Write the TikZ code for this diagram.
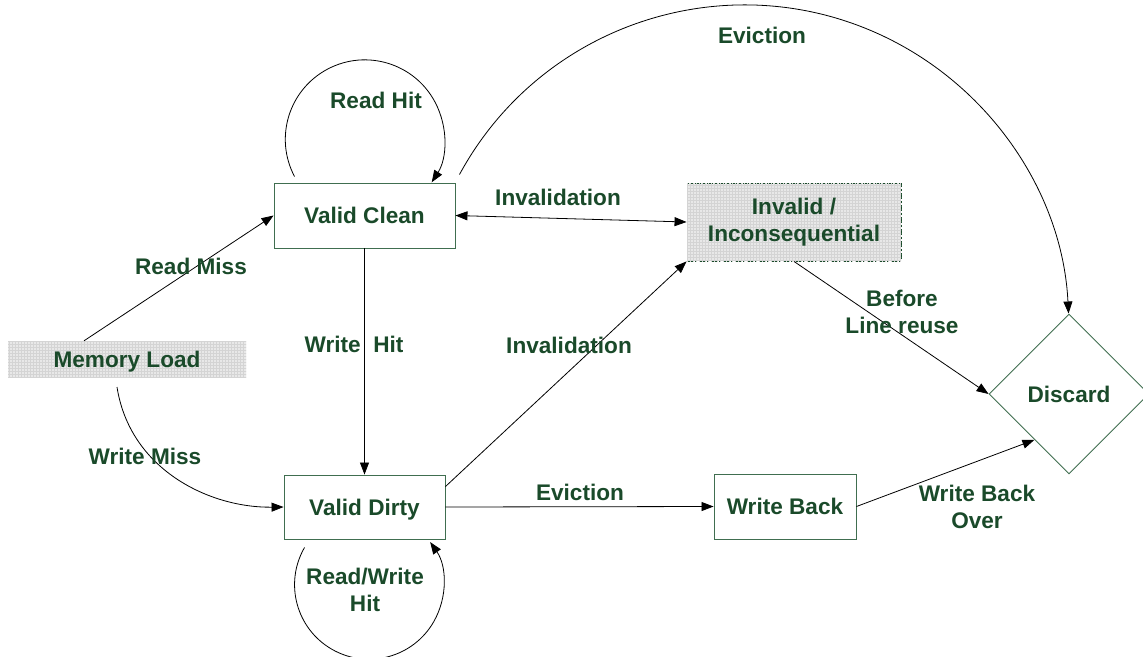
\documentclass[tikz,border=0pt]{standalone}
\usepackage{fontspec}
\setmainfont{Liberation Sans}
\usetikzlibrary{arrows.meta,shapes.geometric,patterns,calc}
\definecolor{txtgreen}{RGB}{26,74,42}
\definecolor{boxgreen}{RGB}{64,110,80}
\definecolor{gridbg}{RGB}{232,232,232}
\definecolor{gridln}{RGB}{212,212,212}
\tikzset{
  statebox/.style={draw=boxgreen, line width=0.9pt, inner sep=0pt, text=txtgreen, align=center},
  onel/.style={text height=16pt, text depth=0pt},
  gridfill/.style={fill=gridbg, postaction={pattern=grid, pattern color=gridln}},
  lbl/.style={text=txtgreen, align=center, inner sep=0pt},
  conn/.style={line width=0.8pt, draw=black, -{Triangle[length=12pt,width=9pt]}},
  dconn/.style={line width=0.8pt, draw=black, {Triangle[length=12pt,width=9pt]}-{Triangle[length=12pt,width=9pt]}}
}
\begin{document}
\begin{tikzpicture}[x=1pt, y=-1pt, font=\fontsize{22.6}{27}\selectfont\bfseries]
\useasboundingbox (0,0) rectangle (1143,656);

% nodes
\node[statebox, onel, minimum width=181pt, minimum height=65pt] (vc) at (364.5,215.5) {Valid Clean};
\node[statebox, gridfill, draw=txtgreen, dash pattern=on 6pt off 2pt on 2pt off 2pt, minimum width=214pt, minimum height=78pt] (inv) at (794,222) {Invalid /\\Inconsequential};
\node[gridfill, onel, inner sep=0pt, text=txtgreen, minimum width=238pt, minimum height=36pt] (ml) at (127,359) {Memory Load};
\node[statebox, onel, minimum width=161pt, minimum height=64pt] (vd) at (364.5,507) {Valid Dirty};
\node[statebox, onel, minimum width=142pt, minimum height=65pt] (wb) at (785,506.5) {Write Back};
\node[statebox, onel, diamond, minimum width=160pt, minimum height=160pt] (dis) at (1069,394) {Discard};

% helper coordinates
\coordinate (wmstart) at (117,387);
\coordinate (disedge) at ($(dis.west)!0.57!(dis.south)$);

% connectors
\draw[conn] ([xshift=-43pt]ml.north) -- (vc.west);
\draw[conn] (wmstart) .. controls (130,470) and (210,508) .. (vd.west);
\draw[conn] ([xshift=21pt,yshift=6pt]vc.north west) arc[start angle=152.1, end angle=392.7, radius=79.5];
\draw[conn] ([xshift=4pt,yshift=8pt]vc.north east) arc[start angle=208.5, end angle=357.2, radius=324.4];
\draw[dconn] (vc.east) -- (inv.west);
\draw[conn] (vc.south) -- (vd.north);
\draw[conn] ([yshift=-12pt]vd.north east) -- (inv.south west);
\draw[conn] (inv.south) -- (dis.west);
\draw[conn] (vd.east) -- (wb.west);
\draw[conn] (wb.east) -- (disedge);
\draw[conn] ([xshift=21pt,yshift=-8pt]vd.south west) arc[start angle=210, end angle=-34.9, radius=74.5];

% labels
\node[lbl] (lreadhit) at (376,100) {Read Hit};
\node[lbl] (levict1) at (762,35) {Eviction};
\node[lbl] (linval1) at (558,197) {Invalidation};
\node[lbl] (lreadmiss) at (191,266) {Read Miss};
\node[lbl] (lwritehit) at (354,344) {Write\ \ Hit};
\node[lbl] (linval2) at (569,345) {Invalidation};
\node[lbl] (lbefore) at (902,312) {Before\\Line reuse};
\node[lbl] (lwritemiss) at (145,456) {Write Miss};
\node[lbl] (levict2) at (580,492) {Eviction};
\node[lbl] (lwbover) at (977,507) {Write Back\\Over};
\node[lbl] (lrwhit) at (365,590) {Read/Write\\Hit};
\end{tikzpicture}
\end{document}
